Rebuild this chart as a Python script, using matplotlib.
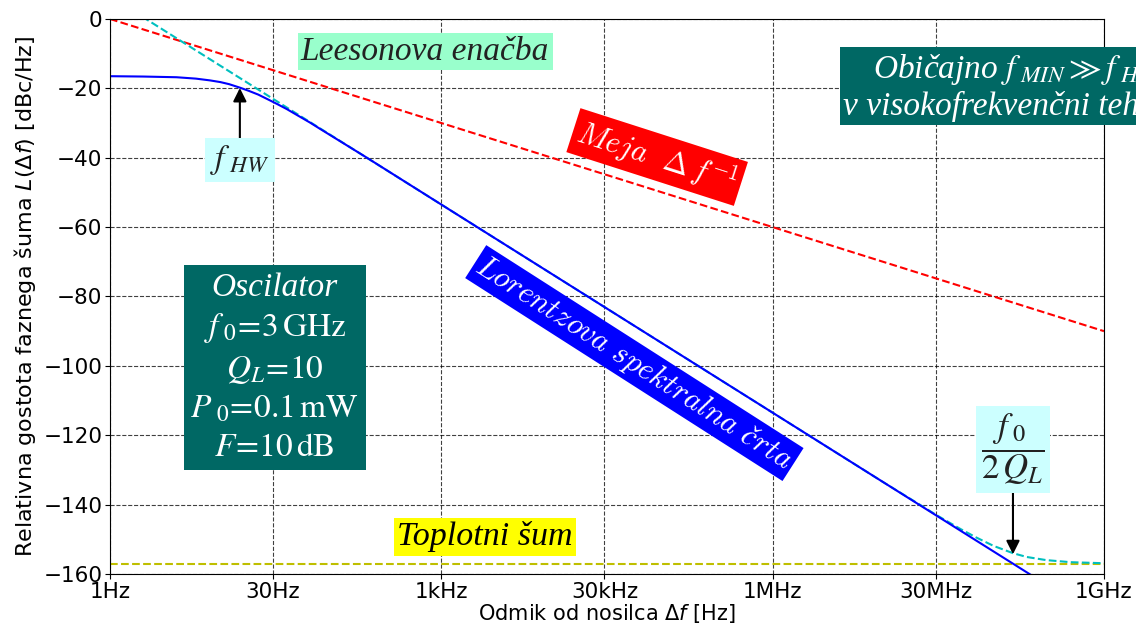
import matplotlib
matplotlib.use("Agg")
import matplotlib.pyplot as plt

# Lorentz spectral line
f_lor = [1, 2, 4, 6, 8, 10, 12, 15, 18, 22, 27, 33, 40, 50, 65, 80, 100, 200,
         1e3, 1e4, 1e5, 1e6, 1e7, 1e8, 1e9]
L_lor = [-16.5, -16.6, -16.8, -17.2, -17.7, -18.2, -18.8, -19.8, -20.7, -21.8,
         -23.2, -24.6, -26.0, -27.8, -29.9, -31.7, -33.6, -39.5,
         -53.5, -73.5, -93.5, -113.5, -133.5, -153.5, -173.5]

# Leeson equation (cyan dashed)
f_lee = [1, 10, 100, 1e3, 1e4, 1e5, 1e6, 1e7, 2e7, 3e7, 5e7, 7e7, 1e8, 1.5e8,
         2e8, 3e8, 5e8, 1e9]
L_lee = [6.5, -13.5, -33.5, -53.5, -73.5, -93.5, -113.5, -133.5, -139.4, -142.9,
         -147.0, -149.5, -151.9, -154.0, -155.1, -156.0, -156.6, -156.9]

# 1/f limit (red dashed) and thermal noise floor (yellow dashed)
f_lim = [1, 1e9]
L_lim = [0, -90]
f_th = [1, 1e9]
L_th = [-157, -157]

xticks = [1, 30, 1e3, 3e4, 1e6, 3e7, 1e9]
xticklabels = ["1Hz", "30Hz", "1kHz", "30kHz", "1MHz", "30MHz", "1GHz"]
yticks = list(range(-160, 1, 20))

fig = plt.figure(figsize=(11.36, 6.32), dpi=100)
ax = fig.add_axes([0.0968, 0.0918, 0.875, 0.8782])

ax.plot(f_lim, L_lim, "r--", lw=1.5)
ax.plot(f_th, L_th, "--", color="y", lw=1.5)
ax.plot(f_lee, L_lee, "c--", lw=1.5)
ax.plot(f_lor, L_lor, "b-", lw=1.5)

ax.set_xscale("log")
ax.set_xlim(1, 1e9)
ax.set_ylim(-160, 0)
ax.set_xticks(xticks)
ax.set_xticklabels(xticklabels)
ax.minorticks_off()
ax.set_yticks(yticks)
ax.tick_params(labelsize=15.5, pad=2)
ax.grid(True, ls="--", color="k", lw=0.8, alpha=0.75)
ax.set_xlabel(r"Odmik od nosilca $\Delta f$ [Hz]", fontsize=15, labelpad=0)
ax.set_ylabel(r"Relativna gostota faznega šuma $L(\Delta f)$ [dBc/Hz]",
              fontsize=16, labelpad=4)

serif = "Liberation Serif"

ax.text(713, -9.5, "Leesonova enačba", family=serif, style="italic",
        fontsize=24, color="#222222", ha="center", va="center",
        bbox=dict(boxstyle="square,pad=0.1", fc="#99ffcc", ec="none"))

# text runs past the figure edge, as in the original
ax.text(0.7377, 0.877, "Običajno $f_{\\ MIN} \\gg f_{\\ HW}$\nv visokofrekvenčni tehniki",
        transform=ax.transAxes, family=serif, style="italic", fontsize=24,
        color="white", ha="left", va="center", multialignment="center",
        math_fontfamily="stix", linespacing=1.15,
        bbox=dict(boxstyle="square,pad=0.1", fc="#006864", ec="none"))

ax.text(9e4, -39.8, r"$Meja\ \ \Delta\,f^{-1}$", math_fontfamily="cm",
        fontsize=22, color="white", rotation=-17.8, rotation_mode="anchor",
        ha="center", va="center",
        bbox=dict(boxstyle="square,pad=0.15", fc="red", ec="none"))

ax.text(5.6e4, -99.2, r"$\mathit{Lorentzova\ spektralna\ črta}$",
        math_fontfamily="cm", fontsize=22, color="white", rotation=-32.6,
        rotation_mode="anchor", ha="center", va="center",
        bbox=dict(boxstyle="square,pad=0.1", fc="blue", ec="none"))

ax.text(31, -100.5,
        "Oscilator\n$f_{\\ 0}\\!=\\!3\\,\\mathrm{GHz}$\n$Q_L\\!=\\!10$\n"
        "$P_{\\ 0}\\!=\\!0.1\\,\\mathrm{mW}$\n$F\\!=\\!10\\,\\mathrm{dB}$",
        family=serif, style="italic", fontsize=24, color="white",
        math_fontfamily="stix", ha="center", va="center",
        multialignment="center", linespacing=1.32,
        bbox=dict(boxstyle="square,pad=0.2", fc="#006864", ec="none"))

ax.annotate(r"$f_{\ HW}$", xy=(15, -19.9), xytext=(15, -40.6),
            math_fontfamily="stix", fontsize=24, color="#222222",
            ha="center", va="center",
            bbox=dict(boxstyle="square,pad=0.15", fc="#ccffff", ec="none"),
            arrowprops=dict(arrowstyle="-|>", color="k", lw=1.5,
                            mutation_scale=20, shrinkA=0, shrinkB=0))

ax.annotate(r"$\dfrac{f_{\ 0}}{2\,Q_L}$", xy=(1.5e8, -154.3), xytext=(1.5e8, -124.1),
            math_fontfamily="stix", fontsize=25, color="#222222",
            ha="center", va="center",
            bbox=dict(boxstyle="square,pad=0.15", fc="#ccffff", ec="none"),
            arrowprops=dict(arrowstyle="-|>", color="k", lw=1.5,
                            mutation_scale=20, shrinkA=0, shrinkB=0))

ax.text(2.5e3, -149.3, "Toplotni šum", family=serif, style="italic",
        fontsize=24.5, color="black", ha="center", va="center",
        bbox=dict(boxstyle="square,pad=0.1", fc="yellow", ec="none"))

fig.savefig("out.png", dpi=100)
